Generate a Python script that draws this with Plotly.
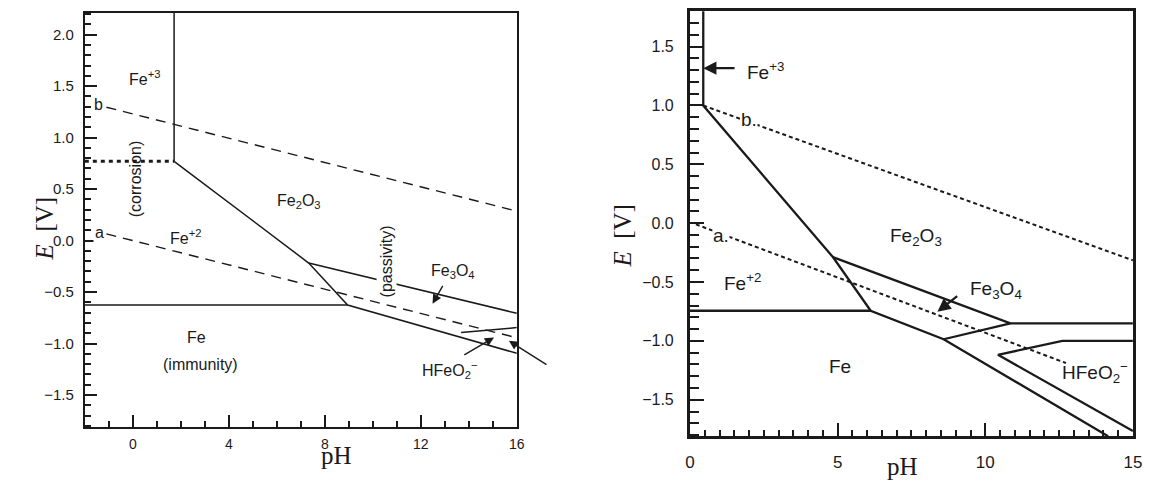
import plotly.graph_objects as go

# The page body adds an 8 px margin; the figure is sized to the visible area
OFF = 8
W, H = 1160 - OFF, 493 - OFF

# ---------------- Left diagram data (pH, E) ----------------
L_xrange = [-2.0, 16.0]
L_yrange = [-1.81, 2.21]
L_xticks = [0, 4, 8, 12, 16]
L_yticks = [-1.5, -1.0, -0.5, 0.0, 0.5, 1.0, 1.5, 2.0]
L_ytext = ["−1.5", "−1.0", "−0.5", "0.0", "0.5", "1.0", "1.5", "2.0"]

L_solid_pH = [1.72, 1.72, None, 1.72, 7.33, 8.95, 16.0, None, -2.0, 8.95, None,
              7.33, 16.0, None, 13.68, 16.0]
L_solid_E = [2.21, 0.77, None, 0.77, -0.218, -0.626, -1.095, None, -0.626, -0.626, None,
             -0.218, -0.706, None, -0.893, -0.845]
L_dot_pH = [-2.0, 1.72]
L_dot_E = [0.77, 0.77]
L_b_pH = [-1.1, 16.0]
L_b_E = [1.295, 0.286]
L_a_pH = [-1.1, 16.0]
L_a_E = [0.065, -0.944]

L_labels = ["Fe<sup>+3</sup>", "(corrosion)", "Fe<sup>+2</sup>", "Fe<sub>2</sub>O<sub>3</sub>",
            "(passivity)", "Fe<sub>3</sub>O<sub>4</sub>", "Fe", "(immunity)",
            "HFeO<sub>2</sub><sup>−</sup>", "(corrosion)", "b", "a"]
L_lab_pH = [0.47, 0.11, 2.19, 6.93, 10.56, 13.33, 2.65, 2.8, 13.2, 16.9, -1.44, -1.37]
L_lab_E = [1.58, 0.60, 0.03, 0.38, -0.2, -0.298, -0.94, -1.2, -1.26, -1.352, 1.325, 0.08]
L_lab_rot = [0, -90, 0, 0, -90, 0, 0, 0, 0, 0, 0, 0]
L_lab_bg = [False, False, False, False, True, False, False, False, False, True, True, True]

L_arrow_tail_pH = [12.95, 13.75, 17.3]
L_arrow_tail_E = [-0.426, -1.118, -1.214]
L_arrow_tip_pH = [12.49, 15.05, 15.67]
L_arrow_tip_E = [-0.613, -0.941, -0.973]

# ---------------- Right diagram data (pH, E) ----------------
R_xrange = [0.0, 15.0]
R_yrange = [-1.81, 1.80]
R_xticks = [0, 5, 10, 15]
R_yticks = [-1.5, -1.0, -0.5, 0.0, 0.5, 1.0, 1.5]
R_ytext = ["−1.5", "−1.0", "−0.5", "0.0", "0.5", "1.0", "1.5"]

R_solid_pH = [0.45, 0.45, 4.84, 6.12, 8.59, 14.16, None,
              0.0, 6.12, None,
              4.84, 10.85, 15.0, None,
              8.59, 10.85, None,
              15.0, 12.61, 10.43, 15.0]
R_solid_E = [1.81, 1.0, -0.288, -0.744, -0.986, -1.81, None,
             -0.744, -0.744, None,
             -0.288, -0.851, -0.851, None,
             -0.986, -0.851, None,
             -1.0, -1.0, -1.118, -1.766]
R_b_pH = [0.45, 15.0]
R_b_E = [1.0, -0.316]
R_a_pH = [0.2, 12.73]
R_a_E = [-0.01, -1.188]

R_labels = ["Fe<sup>+3</sup>", "b.", "a.", "Fe<sup>+2</sup>", "Fe<sub>2</sub>O<sub>3</sub>",
            "Fe<sub>3</sub>O<sub>4</sub>", "Fe", "HFeO<sub>2</sub><sup>−</sup>"]
R_lab_pH = [1.9, 2.0, 1.05, 1.77, 7.67, 10.35, 5.08, 13.71]
R_lab_E = [1.29, 0.88, -0.105, -0.5, -0.12, -0.57, -1.22, -1.27]
R_lab_anchor = ["left", "center", "center", "center", "center", "center", "center", "center"]
R_lab_bg = [False, True, True, False, False, False, False, False]

R_arrow_tail_pH = [1.56, 9.1]
R_arrow_tail_E = [1.317, -0.61]
R_arrow_tip_pH = [0.45, 8.38]
R_arrow_tip_E = [1.317, -0.753]

SANS = "Liberation Sans, Arial, sans-serif"
SERIF = "Liberation Serif, Times New Roman, serif"
INK = "#1a1a1a"


def px(x):
    return (x - OFF) / W


def py(y):
    return 1 - (y - OFF) / H


fig = go.Figure()

# Left traces
fig.add_trace(go.Scatter(x=L_solid_pH, y=L_solid_E, mode="lines", xaxis="x", yaxis="y",
                         line=dict(color=INK, width=1.5), hoverinfo="skip", showlegend=False))
fig.add_trace(go.Scatter(x=L_dot_pH, y=L_dot_E, mode="lines", xaxis="x", yaxis="y",
                         line=dict(color=INK, width=3, dash="4px,4px"), hoverinfo="skip", showlegend=False))
for xs, ys in [(L_b_pH, L_b_E), (L_a_pH, L_a_E)]:
    fig.add_trace(go.Scatter(x=xs, y=ys, mode="lines", xaxis="x", yaxis="y",
                             line=dict(color=INK, width=1.4, dash="10px,7px"), hoverinfo="skip",
                             showlegend=False))

# Right traces
fig.add_trace(go.Scatter(x=R_solid_pH, y=R_solid_E, mode="lines", xaxis="x2", yaxis="y2",
                         line=dict(color=INK, width=2.3), hoverinfo="skip", showlegend=False))
for xs, ys in [(R_b_pH, R_b_E), (R_a_pH, R_a_E)]:
    fig.add_trace(go.Scatter(x=xs, y=ys, mode="lines", xaxis="x2", yaxis="y2",
                             line=dict(color=INK, width=2, dash="4px,3px"), hoverinfo="skip",
                             showlegend=False))

ann = []
for t, x, y, rot, bg in zip(L_labels, L_lab_pH, L_lab_E, L_lab_rot, L_lab_bg):
    ann.append(dict(text=t, x=x, y=y, xref="x", yref="y", showarrow=False, textangle=rot,
                    font=dict(family=SANS, size=16, color=INK),
                    bgcolor="white" if bg else "rgba(0,0,0,0)", borderpad=1))
for tx, ty, hx, hy in zip(L_arrow_tail_pH, L_arrow_tail_E, L_arrow_tip_pH, L_arrow_tip_E):
    ann.append(dict(text="", x=hx, y=hy, ax=tx, ay=ty, xref="x", yref="y", axref="x", ayref="y",
                    showarrow=True, arrowhead=2, arrowsize=1.3, arrowwidth=1.4, arrowcolor=INK))
for t, x, y, anc, bg in zip(R_labels, R_lab_pH, R_lab_E, R_lab_anchor, R_lab_bg):
    ann.append(dict(text=t, x=x, y=y, xref="x2", yref="y2", showarrow=False, xanchor=anc,
                    font=dict(family=SANS, size=19, color=INK),
                    bgcolor="white" if bg else "rgba(0,0,0,0)", borderpad=0))
for tx, ty, hx, hy in zip(R_arrow_tail_pH, R_arrow_tail_E, R_arrow_tip_pH, R_arrow_tip_E):
    ann.append(dict(text="", x=hx, y=hy, ax=tx, ay=ty, xref="x2", yref="y2", axref="x2", ayref="y2",
                    showarrow=True, arrowhead=2, arrowsize=1.2, arrowwidth=2.2, arrowcolor=INK))

# Axis titles
ann += [
    dict(text="pH", x=px(317.5), y=py(471), xref="paper", yref="paper", showarrow=False,
         font=dict(family=SERIF, size=25, color=INK)),
    dict(text="pH", x=px(926.5), y=py(482), xref="paper", yref="paper", showarrow=False,
         font=dict(family=SERIF, size=25, color=INK)),
    dict(text="<i>E</i>&nbsp; [V]", x=px(24), y=py(227), xref="paper", yref="paper",
         showarrow=False, textangle=-90, font=dict(family=SERIF, size=25, color=INK)),
    dict(text="<i>E</i>&nbsp; [V]", x=px(625), y=py(235), xref="paper", yref="paper",
         showarrow=False, textangle=-90, font=dict(family=SERIF, size=25, color=INK)),
]


def axis(domain, rng, ticks, text, anchor, lw, tlen, mdt, mlen, size, stand):
    return dict(domain=domain, range=rng, tickvals=ticks, ticktext=text, anchor=anchor,
                ticks="inside", ticklen=tlen, tickwidth=2, tickcolor=INK,
                minor=dict(dtick=mdt, tick0=0, ticks="inside", ticklen=mlen, tickwidth=2, tickcolor=INK),
                showline=True, linecolor=INK, linewidth=lw, mirror=True, showgrid=False,
                zeroline=False, tickfont=dict(family=SANS, size=size, color=INK),
                ticklabelstandoff=stand, fixedrange=True)


fig.update_layout(
    width=W, height=H, margin=dict(l=0, r=0, t=0, b=0),
    paper_bgcolor="white", plot_bgcolor="white", showlegend=False,
    xaxis=axis([px(80.7), px(518)], L_xrange, L_xticks, [str(t) for t in L_xticks], "y",
               2, 12, 1, 6, 14, 3),
    yaxis=axis([py(426.7), py(11)], L_yrange, L_yticks, L_ytext, "x", 2, 12, 0.1, 6, 15, 6),
    xaxis2=axis([px(693.3), px(1141.7)], R_xrange, R_xticks, [str(t) for t in R_xticks], "y2",
                3, 13, 0.5, 6, 17, 8),
    yaxis2=axis([py(436), py(9.3)], R_yrange, R_yticks, R_ytext, "x2", 3, 14, 0.1, 9, 16, 10),
    annotations=ann,
)

fig.write_html("out.html")
